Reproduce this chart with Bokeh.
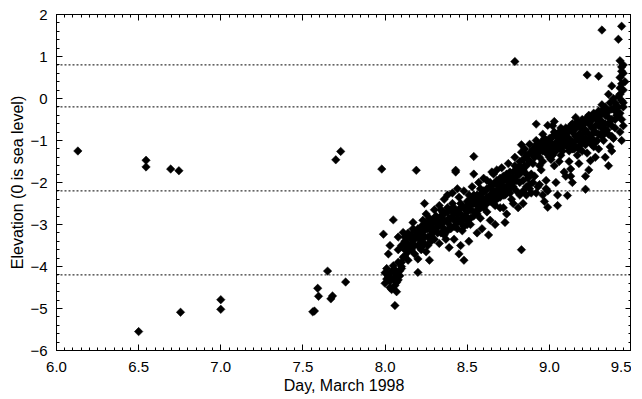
from bokeh.plotting import figure
from bokeh.models import FixedTicker, LinearAxis, Span, Range1d
from bokeh.embed import file_html
from bokeh.resources import INLINE
import numpy as np

# ---- data: (day of March 1998, elevation in m) ----
day = [
    # early outliers
    6.13, 6.50, 6.545, 6.545, 6.695, 6.745, 6.755, 7.00, 7.00,
    7.56, 7.57, 7.59, 7.595, 7.65, 7.67, 7.68, 7.76, 7.70, 7.73, 7.98, 8.19, 8.79,
    # 8.00-8.10
    7.99, 8.05, 8.03, 8.02, 8.11, 8.06, 8.07, 8.01, 8.02, 8.03, 8.04, 8.05, 8.06, 8.07, 8.08, 8.09, 8.03, 8.05, 8.07, 8.04, 8.02, 8.06,
    8.00, 8.00, 8.01, 8.09, 8.10,
    # 8.10-8.20
    8.11, 8.12, 8.13, 8.14, 8.15, 8.16, 8.17, 8.18, 8.19, 8.20, 8.20, 8.14, 8.17,
    # 8.20-8.30
    8.21, 8.22, 8.23, 8.24, 8.25, 8.26, 8.27, 8.28, 8.29, 8.30, 8.22, 8.25, 8.28, 8.24, 8.27,
    # 8.30-8.40
    8.31, 8.32, 8.33, 8.34, 8.35, 8.36, 8.37, 8.38, 8.39, 8.40, 8.33, 8.36, 8.39, 8.31, 8.35, 8.38, 8.34,
    # 8.40-8.50
    8.41, 8.42, 8.43, 8.43, 8.44, 8.45, 8.46, 8.47, 8.48, 8.49, 8.50, 8.42, 8.45, 8.48, 8.44, 8.47, 8.41, 8.46, 8.49, 8.50,
    # 8.50-8.60
    8.51, 8.52, 8.53, 8.54, 8.55, 8.56, 8.57, 8.58, 8.59, 8.60, 8.52, 8.54, 8.56, 8.58, 8.60, 8.51, 8.53, 8.55, 8.57, 8.59, 8.54,
    # 8.60-8.70
    8.61, 8.62, 8.63, 8.64, 8.65, 8.66, 8.67, 8.68, 8.69, 8.70, 8.62, 8.64, 8.66, 8.68, 8.70, 8.61, 8.63, 8.65, 8.67, 8.69,
    # 8.70-8.80
    8.71, 8.72, 8.73, 8.74, 8.75, 8.76, 8.77, 8.78, 8.79, 8.79, 8.80, 8.72, 8.74, 8.76, 8.78, 8.71, 8.73, 8.77, 8.75,
    # 8.80-8.90
    8.81, 8.82, 8.83, 8.83, 8.84, 8.85, 8.86, 8.87, 8.88, 8.89, 8.90, 8.82, 8.84, 8.86, 8.88, 8.81, 8.85, 8.89, 8.87, 8.83,
    # 8.90-9.00
    8.91, 8.92, 8.93, 8.94, 8.95, 8.96, 8.97, 8.98, 8.99, 9.00, 8.91, 8.93, 8.95, 8.97, 8.99, 8.92, 8.94, 8.96, 8.98, 9.00, 8.99,
    # 9.00-9.10
    9.01, 9.02, 9.03, 9.04, 9.05, 9.06, 9.07, 9.08, 9.09, 9.10, 9.01, 9.03, 9.05, 9.07, 9.09, 9.02, 9.04, 9.06, 9.08, 9.10, 9.05, 9.03,
    # 9.10-9.20
    9.11, 9.12, 9.13, 9.14, 9.15, 9.16, 9.17, 9.18, 9.19, 9.20, 9.11, 9.13, 9.15, 9.17, 9.19, 9.12, 9.14, 9.16, 9.18, 9.20, 9.11, 9.13,
    # 9.20-9.30
    9.21, 9.22, 9.23, 9.24, 9.25, 9.26, 9.27, 9.28, 9.29, 9.30, 9.21, 9.22, 9.23, 9.25, 9.27, 9.29, 9.24, 9.26, 9.28, 9.30, 9.22, 9.23, 9.30,
    # 9.30-9.40
    9.31, 9.32, 9.33, 9.34, 9.35, 9.36, 9.37, 9.38, 9.39, 9.40, 9.31, 9.33, 9.35, 9.37, 9.39, 9.32, 9.34, 9.36, 9.38, 9.40, 9.32, 9.36, 9.38,
    # 9.40-9.47
    9.43, 9.44, 9.45, 9.43, 9.44, 9.45, 9.43, 9.44, 9.45, 9.43, 9.44, 9.45, 9.43, 9.44, 9.45, 9.46, 9.44, 9.42, 9.41, 9.44, 9.43, 9.45,
    # dense core of the main band
    8.08, 8.08, 8.08, 8.10, 8.10, 8.10, 8.12, 8.12, 8.12, 8.14, 8.14, 8.14,
    8.16, 8.16, 8.16, 8.18, 8.18, 8.18, 8.20, 8.20, 8.20, 8.22, 8.22, 8.22,
    8.24, 8.24, 8.24, 8.26, 8.26, 8.26, 8.28, 8.28, 8.28, 8.30, 8.30, 8.30,
    8.32, 8.32, 8.32, 8.34, 8.34, 8.34, 8.36, 8.36, 8.36, 8.38, 8.38, 8.38,
    8.40, 8.40, 8.40, 8.42, 8.42, 8.42, 8.44, 8.44, 8.44, 8.46, 8.46, 8.46,
    8.48, 8.48, 8.48, 8.50, 8.50, 8.50, 8.52, 8.52, 8.52, 8.54, 8.54, 8.54,
    8.56, 8.56, 8.56, 8.58, 8.58, 8.58, 8.60, 8.60, 8.60, 8.62, 8.62, 8.62,
    8.64, 8.64, 8.64, 8.66, 8.66, 8.66, 8.68, 8.68, 8.68, 8.70, 8.70, 8.70,
    8.72, 8.72, 8.72, 8.74, 8.74, 8.74, 8.76, 8.76, 8.76, 8.78, 8.78, 8.78,
    8.80, 8.80, 8.80, 8.82, 8.82, 8.82, 8.84, 8.84, 8.84, 8.86, 8.86, 8.86,
    8.88, 8.88, 8.88, 8.90, 8.90, 8.90, 8.92, 8.92, 8.92, 8.94, 8.94, 8.94,
    8.96, 8.96, 8.96, 8.98, 8.98, 8.98, 9.00, 9.00, 9.00, 9.02, 9.02, 9.02,
    9.04, 9.04, 9.04, 9.06, 9.06, 9.06, 9.08, 9.08, 9.08, 9.10, 9.10, 9.10,
    9.12, 9.12, 9.12, 9.14, 9.14, 9.14, 9.16, 9.16, 9.16, 9.18, 9.18, 9.18,
    9.20, 9.20, 9.20, 9.22, 9.22, 9.22, 9.24, 9.24, 9.24, 9.26, 9.26, 9.26,
    9.28, 9.28, 9.28, 9.30, 9.30, 9.30, 9.32, 9.32, 9.32, 9.34, 9.34, 9.34,
    9.36, 9.36, 9.36, 9.38, 9.38, 9.38, 9.40, 9.40, 9.40, 9.42, 9.42, 9.42,
]
elev = [
    -1.25, -5.55, -1.47, -1.63, -1.68, -1.72, -5.09, -4.79, -5.02,
    -5.08, -5.06, -4.52, -4.71, -4.11, -4.77, -4.70, -4.37, -1.46, -1.26, -1.68, -1.71, 0.88,
    -3.23, -2.89, -3.50, -3.70, -3.19, -4.93, -4.60, -4.05, -4.20, -4.35, -4.12, -4.28, -4.45, -4.18, -4.32, -4.10, -4.50, -3.98, -4.38, -4.55, -4.25, -4.08,
    -4.15, -4.40, -4.30, -4.22, -4.05,
    -3.78, -3.30, -3.45, -3.20, -3.55, -3.35, -3.10, -3.50, -3.28, -4.14, -3.82, -3.65, -2.95,
    -3.20, -3.05, -2.90, -3.30, -2.75, -3.10, -2.85, -3.40, -2.95, -2.65, -3.55, -3.65, -3.15, -2.50, -3.85,
    -2.80, -3.00, -2.55, -3.20, -2.70, -2.90, -3.35, -2.60, -2.85, -3.05, -3.45, -2.40, -3.55, -3.10, -2.95, -2.30, -2.65,
    -2.50, -2.75, -1.71, -1.75, -2.95, -2.35, -2.60, -3.15, -2.20, -2.80, -2.45, -3.35, -3.70, -3.85, -2.15, -2.90, -2.25, -3.50, -2.65, -3.00,
    -2.30, -2.55, -2.10, -1.38, -2.70, -2.40, -2.00, -2.85, -2.25, -2.60, -3.00, -2.80, -3.20, -2.15, -1.90, -3.40, -2.50, -2.35, -2.65, -3.10, -1.80,
    -2.20, -1.95, -2.45, -2.10, -2.30, -1.80, -2.55, -2.05, -2.35, -1.90, -2.70, -2.90, -2.20, -1.70, -2.60, -2.50, -3.25, -1.75, -3.00, -2.15,
    -2.05, -1.85, -2.30, -1.95, -2.15, -1.75, -2.40, -2.00, -1.40, -1.60, -1.85, -2.60, -2.75, -2.25, -2.50, -1.65, -2.95, -1.90, -1.55,
    -1.70, -1.50, -1.28, -3.60, -1.95, -1.60, -2.10, -1.45, -1.09, -1.80, -1.55, -2.30, -2.50, -1.35, -2.05, -2.60, -1.20, -2.25, -1.90, -1.10,
    -1.40, -0.61, -1.20, -1.27, -1.05, -1.50, -0.95, -1.30, -0.64, -1.15, -1.85, -2.10, -1.70, -2.45, -2.59, -1.00, -1.60, -0.85, -1.95, -1.40, -2.20,
    -0.95, -1.10, -0.80, -1.25, -0.90, -1.05, -0.70, -1.15, -0.85, -1.00, -1.45, -1.60, -2.55, -1.35, -1.75, -0.65, -2.00, -1.50, -1.25, -1.85, -2.30, -0.55,
    -0.80, -0.95, -0.65, -1.05, -0.75, -0.90, -0.55, -1.00, -0.70, -0.85, -2.31, -1.68, -1.20, -1.35, -1.10, -1.50, -2.00, -0.45, -1.55, -1.25, -1.15, -1.85,
    -0.60, -0.75, -0.45, -0.85, -0.55, -0.70, -0.35, -0.80, -0.50, -0.65, -1.05, -2.16, -1.30, -1.48, -1.15, -1.00, -1.70, -0.95, -1.40, -1.20, -1.85, 0.56, 0.53,
    -0.40, -0.55, -0.25, -0.60, -0.30, -0.45, -0.10, -0.50, 0.00, -0.20, -0.85, -1.00, -0.75, -1.15, -0.95, 1.63, -1.40, 0.10, -1.25, -0.70, -0.15, -1.60, 0.30,
    0.90, 0.75, 0.60, 0.50, 0.35, 0.20, 0.10, -0.05, -0.20, -0.35, -0.50, -0.65, -0.80, -1.00, 0.80, 0.40, 1.72, 1.41, -0.40, 0.65, 0.25, -0.10,
    # dense core
    -3.90, -3.60, -3.30, -3.50, -3.90, -4.00, -3.60, -3.40, -3.75, -3.50, -3.30, -3.85,
    -3.45, -3.60, -3.25, -3.35, -3.70, -3.15, -3.30, -3.50, -3.10, -3.40, -3.25, -3.60,
    -3.15, -3.45, -3.00, -3.30, -2.95, -3.50, -3.05, -3.25, -2.90, -3.15, -2.85, -3.35,
    -2.90, -3.20, -3.05, -3.00, -2.80, -2.95, -3.10, -2.75, -3.25, -2.95, -2.70, -3.15,
    -2.85, -2.65, -3.10, -2.90, -2.60, -3.05, -2.70, -2.85, -3.10, -2.75, -2.50, -2.95,
    -2.60, -2.85, -3.05, -2.70, -2.55, -2.90, -2.65, -2.40, -2.85, -2.50, -2.70, -2.30,
    -2.55, -2.30, -2.75, -2.45, -2.60, -2.30, -2.40, -2.20, -2.55, -2.35, -2.50, -2.15,
    -2.30, -2.45, -2.00, -2.35, -2.05, -2.50, -2.25, -2.40, -1.95, -2.20, -2.35, -2.05,
    -2.15, -1.95, -2.30, -2.10, -1.80, -2.25, -2.00, -1.90, -2.15, -1.90, -1.75, -2.10,
    -1.95, -1.70, -2.20, -1.80, -1.60, -2.00, -1.70, -1.45, -2.20, -1.60, -1.80, -2.30,
    -1.50, -1.30, -2.15, -1.35, -1.20, -2.00, -1.30, -1.10, -2.25, -1.15, -1.40, -2.05,
    -1.10, -1.25, -2.30, -1.00, -1.20, -2.15, -0.95, -1.10, -1.30, -0.90, -1.20, -1.35,
    -0.85, -1.05, -1.20, -0.80, -0.95, -1.15, -0.90, -1.05, -0.75, -0.85, -1.10, -0.70,
    -0.75, -1.10, -1.25, -0.80, -0.60, -1.20, -0.70, -1.00, -1.15, -0.60, -0.85, -1.20,
    -0.65, -0.95, -0.50, -0.55, -0.95, -1.10, -0.60, -0.40, -1.00, -0.50, -0.85, -1.10,
    -0.45, -0.65, -1.05, -0.40, -0.85, -0.30, -0.35, -0.70, -0.90, -0.40, -0.20, -0.80,
    -0.30, -0.60, -0.85, -0.25, -0.65, -0.90, -0.30, -0.50, -0.10, -0.20, -0.40, 0.05,
]
ref_levels = [0.8, -0.2, -2.2, -4.2]

x_major = [6.0, 6.5, 7.0, 7.5, 8.0, 8.5, 9.0, 9.5]
x_labels = ["6.0", "6.5", "7.0", "7.5", "8.0", "8.5", "9.0", "9.5"]
y_major = [-6, -5, -4, -3, -2, -1, 0, 1, 2]
y_labels = ["\u22126", "\u22125", "\u22124", "\u22123", "\u22122", "\u22121", "0", "1", "2"]

FONT = "Liberation Sans"

p = figure(width=631, height=396, output_backend="svg", toolbar_location=None,
           x_range=Range1d(6.0, 9.5), y_range=Range1d(-6, 2),
           min_border_left=56, min_border_right=0, min_border_top=14, min_border_bottom=45)
p.grid.visible = False
p.outline_line_color = "black"
p.outline_line_width = 1
p.background_fill_color = "white"
p.border_fill_color = "white"

xt = FixedTicker(ticks=x_major, minor_ticks=[round(6.0 + 0.05 * i, 2) for i in range(71)])
yt = FixedTicker(ticks=y_major, minor_ticks=[round(-6 + 0.2 * i, 1) for i in range(41)])

def style(ax, ticker, ticks, labels):
    ax.ticker = ticker
    ax.major_tick_in = 6
    ax.major_tick_out = 0
    ax.minor_tick_in = 3
    ax.minor_tick_out = 0
    ax.axis_line_color = "black"
    ax.major_tick_line_color = "black"
    ax.minor_tick_line_color = "black"
    ax.major_label_text_font = FONT
    ax.major_label_text_font_size = "15px"
    ax.major_label_text_color = "black"
    ax.axis_label_text_font = FONT
    ax.axis_label_text_font_style = "normal"
    ax.axis_label_text_font_size = "16px"
    ax.axis_label_text_color = "black"
    ax.major_label_overrides = {t: l for t, l in zip(ticks, labels)}

style(p.xaxis[0], xt, x_major, x_labels)
style(p.yaxis[0], yt, y_major, y_labels)
p.xaxis[0].axis_label = "Day, March 1998"
p.yaxis[0].axis_label = "Elevation (0 is sea level)"
p.xaxis[0].major_label_standoff = 11
p.xaxis[0].axis_label_standoff = 2
p.yaxis[0].major_label_standoff = 9
p.yaxis[0].axis_label_standoff = 1

# mirrored tick marks on top and right (no labels)
top = LinearAxis()
style(top, xt, x_major, [""] * len(x_major))
top.major_label_standoff = 0
p.add_layout(top, "above")
right = LinearAxis()
style(right, yt, y_major, [""] * len(y_major))
right.major_label_standoff = 0
p.add_layout(right, "right")

for lv in ref_levels:
    p.add_layout(Span(location=lv, dimension="width", line_color="black",
                      line_width=1, line_dash="2 2"))

p.scatter(x=day, y=elev, marker="square", angle=np.pi / 4, size=6,
          fill_color="black", line_color="black", line_width=0.5)

open("out.html", "w").write(file_html(p, INLINE))
